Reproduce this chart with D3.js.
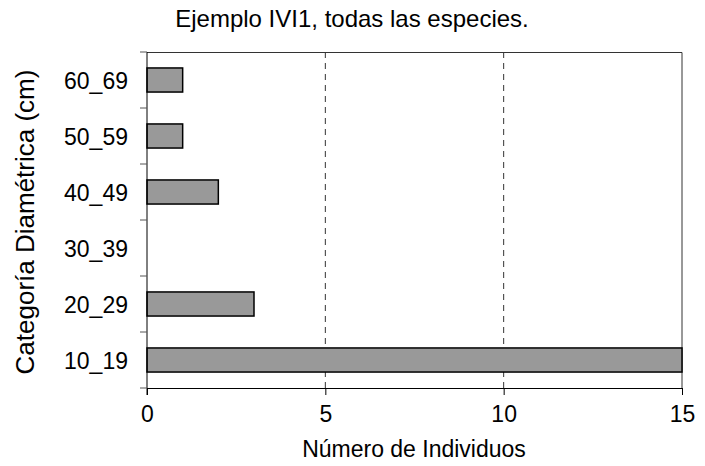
<!DOCTYPE html>
<html>
<head>
    <meta charset="utf-8">
    <title>Ejemplo IVI1</title>
    <script src="https://d3js.org/d3.v7.min.js"></script>
    <style>
        body { margin: 0; padding: 0; background: #fff; }
        text { font-family: "Liberation Sans", Arial, sans-serif; fill: #000; }
    </style>
</head>
<body>
    <div id="chart"></div>

    <script>
// Data
const categories = ["10_19", "20_29", "30_39", "40_49", "50_59", "60_69"];
const individuos = [15, 3, 0, 2, 1, 1];
const xTicks = [0, 5, 10, 15];

const width = 705;
const height = 466;
const margin = {top: 52, right: 23, bottom: 78, left: 147};
const innerW = width - margin.left - margin.right;
const innerH = height - margin.top - margin.bottom;

const svg = d3.select("#chart")
  .append("svg")
    .attr("width", width)
    .attr("height", height);

const g = svg.append("g")
    .attr("transform", `translate(${margin.left}, ${margin.top})`);

const x = d3.scaleLinear()
  .domain([0, 15])
  .range([0, innerW]);

// first category at the bottom
const y = d3.scaleBand()
  .domain(categories.slice().reverse())
  .range([0, innerH])
  .paddingInner(0.57)
  .paddingOuter(0.285);

// dashed gridlines
g.selectAll(".grid")
  .data(xTicks.filter(d => d > 0 && d < 15))
  .join("line")
    .attr("x1", d => x(d))
    .attr("x2", d => x(d))
    .attr("y1", 0)
    .attr("y2", innerH)
    .attr("stroke", "#333")
    .attr("stroke-width", 1)
    .attr("stroke-dasharray", "6,5");

// frame top / right
g.append("path")
    .attr("d", `M0,0.5H${innerW}V${innerH}`)
    .attr("fill", "none")
    .attr("stroke", "#333")
    .attr("stroke-width", 1);

// bars
g.selectAll(".bar")
  .data(individuos.map((v, i) => ({cat: categories[i], v})))
  .join("rect")
    .filter(d => d.v > 0)
    .attr("x", 0)
    .attr("y", d => y(d.cat))
    .attr("width", d => x(d.v))
    .attr("height", y.bandwidth())
    .attr("fill", "#999999")
    .attr("stroke", "#000")
    .attr("stroke-width", 1.5);

// x axis
const xAxis = g.append("g")
    .attr("transform", `translate(0, ${innerH})`)
    .call(d3.axisBottom(x).tickValues(xTicks).tickSize(7).tickPadding(11));
xAxis.select(".domain").attr("stroke", "#000");
xAxis.selectAll("text").style("font-size", "23px").attr("font-family", null);

// y axis: ticks on band boundaries
const bounds = d3.range(categories.length + 1).map(i => i * innerH / categories.length);
g.append("line")
    .attr("x1", 0).attr("x2", 0)
    .attr("y1", 0).attr("y2", innerH + 7)
    .attr("stroke", "#000");
g.selectAll(".ytick")
  .data(bounds)
  .join("line")
    .attr("x1", -7).attr("x2", 0)
    .attr("y1", d => d).attr("y2", d => d)
    .attr("stroke", "#555");
g.selectAll(".ylab")
  .data(categories)
  .join("text")
    .attr("x", -19)
    .attr("y", d => y(d) + y.bandwidth() / 2)
    .attr("dy", "0.38em")
    .attr("text-anchor", "end")
    .style("font-size", "23px")
    .text(d => d);

// titles
svg.append("text")
    .attr("x", 352)
    .attr("y", 27)
    .attr("text-anchor", "middle")
    .style("font-size", "24px")
    .text("Ejemplo IVI1, todas las especies.");

svg.append("text")
    .attr("x", 414)
    .attr("y", 457)
    .attr("text-anchor", "middle")
    .style("font-size", "23px")
    .text("Número de Individuos");

svg.append("text")
    .attr("transform", `translate(34, ${margin.top + innerH / 2 + 2}) rotate(-90)`)
    .attr("text-anchor", "middle")
    .style("font-size", "26px")
    .text("Categoría Diamétrica (cm)");
    </script>
</body>
</html>
